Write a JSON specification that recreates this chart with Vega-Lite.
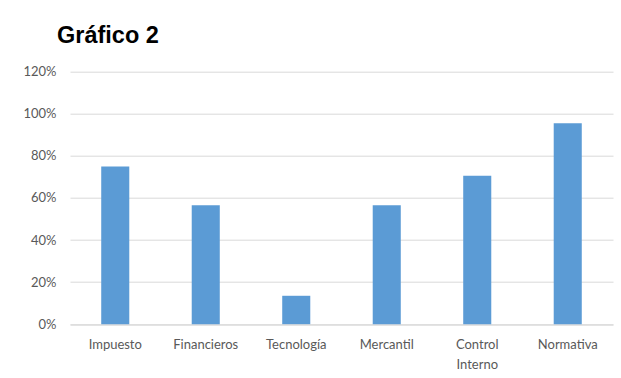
{
  "$schema": "https://vega.github.io/schema/vega-lite/v6.json",
  "autosize": {"type": "none"},
  "width": 543,
  "height": 252.5,
  "padding": {"left": 70, "top": 71.7, "right": 8, "bottom": 54},
  "background": "white",
  "title": {
    "text": "Gráfico 2",
    "anchor": "start",
    "frame": "group",
    "font": "Liberation Sans",
    "fontSize": 23.5,
    "fontWeight": "bold",
    "color": "#000000",
    "baseline": "alphabetic",
    "offset": 27,
    "dx": -13,
    "dy": 28
  },
  "data": {
    "values": [
      {"categoria": "Impuesto", "valor": 0.75},
      {"categoria": "Financieros", "valor": 0.565},
      {"categoria": "Tecnología", "valor": 0.135},
      {"categoria": "Mercantil", "valor": 0.565},
      {"categoria": "Control Interno", "valor": 0.705},
      {"categoria": "Normativa", "valor": 0.955}
    ]
  },
  "mark": {"type": "bar", "color": "#5B9BD5"},
  "encoding": {
    "x": {
      "field": "categoria",
      "type": "nominal",
      "sort": null,
      "scale": {"paddingInner": 0.69, "paddingOuter": 0.345},
      "axis": {
        "title": null,
        "labelAngle": 0,
        "labelFont": "Lato",
        "labelFontSize": 13,
        "labelColor": "#595959",
        "labelPadding": 14,
        "labelLineHeight": 20,
        "labelExpr": "datum.label == 'Control Interno' ? ['Control', 'Interno'] : datum.label",
        "ticks": false,
        "domainColor": "#d9d9d9",
        "grid": false
      }
    },
    "y": {
      "field": "valor",
      "type": "quantitative",
      "scale": {"domain": [0, 1.2], "nice": false},
      "axis": {
        "title": null,
        "values": [0, 0.2, 0.4, 0.6, 0.8, 1.0, 1.2],
        "format": ".0%",
        "labelFont": "Lato",
        "labelFontSize": 13,
        "labelColor": "#595959",
        "labelPadding": 14,
        "ticks": false,
        "domain": false,
        "gridColor": "#d9d9d9"
      }
    }
  },
  "config": {"view": {"stroke": null}}
}
